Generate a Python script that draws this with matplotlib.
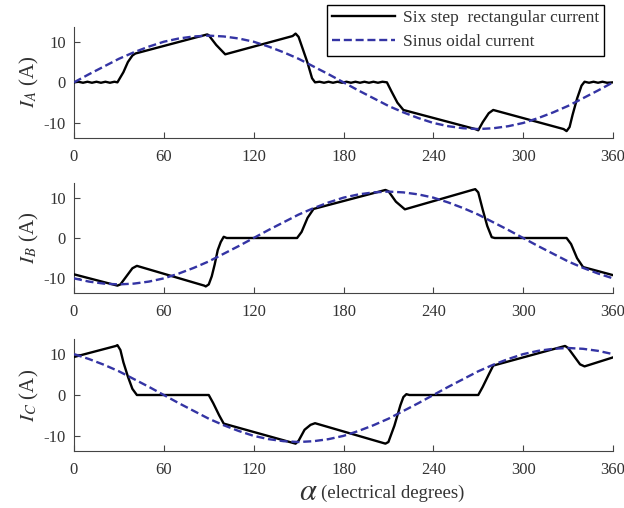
import matplotlib
matplotlib.use("Agg")
import matplotlib.pyplot as plt

plt.rcParams['font.family'] = ['Liberation Serif', 'DejaVu Serif']
plt.rcParams['mathtext.fontset'] = 'stix'

# ---------------- data ----------------
x_ticks = [0, 60, 120, 180, 240, 300, 360]
y_ticks = [-10, 0, 10]
y_ticklabels = ['-10', '0', '10']

# sinusoidal currents, sampled every 10 electrical degrees
sin_deg = [0, 10, 20, 30, 40, 50, 60, 70, 80, 90, 100, 110, 120, 130, 140, 150,
           160, 170, 180, 190, 200, 210, 220, 230, 240, 250, 260, 270, 280, 290,
           300, 310, 320, 330, 340, 350, 360]
ia_sin = [0.0, 2.0, 3.9, 5.8, 7.4, 8.8, 10.0, 10.8, 11.3, 11.5, 11.3, 10.8, 10.0,
          8.8, 7.4, 5.8, 3.9, 2.0, 0.0, -2.0, -3.9, -5.8, -7.4, -8.8, -10.0, -10.8,
          -11.3, -11.5, -11.3, -10.8, -10.0, -8.8, -7.4, -5.8, -3.9, -2.0, 0.0]
ib_sin = [-10.0, -10.8, -11.3, -11.5, -11.3, -10.8, -10.0, -8.8, -7.4, -5.8, -3.9,
          -2.0, 0.0, 2.0, 3.9, 5.8, 7.4, 8.8, 10.0, 10.8, 11.3, 11.5, 11.3, 10.8,
          10.0, 8.8, 7.4, 5.8, 3.9, 2.0, 0.0, -2.0, -3.9, -5.8, -7.4, -8.8, -10.0]
ic_sin = [10.0, 8.8, 7.4, 5.8, 3.9, 2.0, 0.0, -2.0, -3.9, -5.8, -7.4, -8.8, -10.0,
          -10.8, -11.3, -11.5, -11.3, -10.8, -10.0, -8.8, -7.4, -5.8, -3.9, -2.0,
          0.0, 2.0, 3.9, 5.8, 7.4, 8.8, 10.0, 10.8, 11.3, 11.5, 11.3, 10.8, 10.0]

# six-step rectangular currents (breakpoints)
ia_deg = [0, 3, 6, 9, 12, 15, 18, 21, 24, 27, 29, 33, 36, 39, 41, 89, 90, 95, 101,
          146, 148, 150, 153, 156, 159, 161, 164, 167, 170, 173, 176, 179, 182, 185,
          188, 191, 194, 197, 200, 203, 206, 209, 212, 216, 220, 268, 270, 273, 277,
          280, 327, 329, 331, 333, 336, 339, 341, 344, 347, 350, 353, 356, 360]
ia_rect = [0.0, 0.15, -0.1, 0.15, -0.1, 0.15, -0.1, 0.15, -0.1, 0.15, 0.0, 2.5, 5.0,
           6.6, 7.1, 11.8, 11.6, 9.2, 6.9, 11.4, 12.0, 11.2, 8.0, 4.8, 1.0, 0.0,
           0.15, -0.1, 0.15, -0.1, 0.15, -0.1, 0.15, -0.1, 0.15, -0.1, 0.15, -0.1, 0.15,
           -0.1, 0.15, 0.0, -2.2, -5.0, -6.8, -11.5, -11.8, -9.8, -7.6, -6.8, -11.5,
           -12.0, -11.0, -8.0, -4.0, -0.8, 0.15, -0.1, 0.15, -0.1, 0.15, -0.1, 0.0]
ib_deg = [0, 29, 31, 35, 39, 42, 87, 88, 90, 92, 94, 96, 98, 100, 102, 149, 152,
          156, 160, 208, 210, 215, 221, 266, 268, 270, 273, 276, 279, 281, 329, 332,
          336, 340, 360]
ib_rect = [-9.0, -11.8, -11.5, -9.5, -7.5, -6.9, -11.8, -12.0, -11.5, -9.5, -6.5,
           -3.0, -1.0, 0.3, 0.0, 0.0, 1.5, 5.0, 7.2, 11.9, 11.6, 9.0, 7.1, 11.9,
           12.1, 11.3, 7.0, 3.0, 0.2, 0.0, 0.0, -1.5, -5.0, -7.2, -9.2]
ic_deg = [0, 28, 29, 31, 33, 36, 39, 42, 90, 93, 97, 100, 148, 150, 154, 158, 161,
          208, 210, 212, 214, 216, 218, 220, 222, 224, 270, 273, 277, 280, 328, 330,
          334, 338, 341, 360]
ic_rect = [9.3, 12.0, 12.2, 11.0, 8.0, 4.5, 1.5, 0.0, 0.0, -2.0, -5.0, -7.0,
           -11.9, -11.2, -8.5, -7.3, -6.9, -11.9, -11.5, -9.5, -7.5, -5.0, -2.5,
           -0.5, 0.2, 0.0, 0.0, 2.0, 5.0, 7.2, 12.0, 11.5, 9.5, 7.5, 7.0, 9.2]

ylabels = [r'$I_A$ (A)', r'$I_B$ (A)', r'$I_C$ (A)']
legend_labels = ['Six step  rectangular current', 'Sinus oidal current']

# ---------------- figure ----------------
W, H = 624, 508
fig = plt.figure(figsize=(W / 100, H / 100), dpi=100)

panels = [(26.7, 138.0), (182.7, 293.3), (339.0, 451.0)]
x0, x1 = 74, 613
blue = '#3434a4'
dark = '#333333'

rects = [(ia_deg, ia_rect, ia_sin), (ib_deg, ib_rect, ib_sin), (ic_deg, ic_rect, ic_sin)]
axes = []
for (top, bot), (rd, rv, sv), yl in zip(panels, rects, ylabels):
    ax = fig.add_axes([x0 / W, 1 - bot / H, (x1 - x0) / W, (bot - top) / H])
    l1, = ax.plot(rd, rv, color='black', lw=1.7, zorder=3, solid_joinstyle='round')
    l2, = ax.plot(sin_deg, sv, color=blue, lw=1.7, ls=(0, (3.4, 1.6)), zorder=4)
    ax.set_xlim(0, 360)
    ax.set_ylim(-13.7, 13.7)
    ax.set_xticks(x_ticks)
    ax.set_yticks(y_ticks)
    ax.set_yticklabels(y_ticklabels)
    for s in ['top', 'right']:
        ax.spines[s].set_visible(False)
    for s in ['left', 'bottom']:
        ax.spines[s].set_color('#444444')
        ax.spines[s].set_linewidth(0.8)
    ax.tick_params(direction='in', length=4, width=0.8, colors='#444444',
                   labelcolor=dark, labelsize=12)
    ax.tick_params(axis='x', pad=8)
    ax.tick_params(axis='y', pad=6)
    ax.set_ylabel(yl, fontsize=15, color=dark, labelpad=2)
    axes.append((ax, l1, l2))

ax0, l1, l2 = axes[0]
leg = fig.legend([l1, l2], legend_labels, loc='upper right',
                 bbox_to_anchor=(604 / W, 1 - 5 / H), fontsize=12.5,
                 frameon=True, fancybox=False, edgecolor='black', framealpha=1,
                 handlelength=3.6, handletextpad=0.45, borderpad=0.3,
                 labelspacing=0.45, borderaxespad=0)
leg.get_frame().set_linewidth(1.0)
for t in leg.get_texts():
    t.set_color(dark)

fig.text(299 / W, 1 - 493 / H, r'$\alpha$', fontsize=22, ha='left', va='center', color=dark)
fig.text(321 / W, 1 - 493 / H, '(electrical degrees)', fontsize=13.5, ha='left',
         va='center', color=dark)

fig.savefig('out.png', dpi=100)
